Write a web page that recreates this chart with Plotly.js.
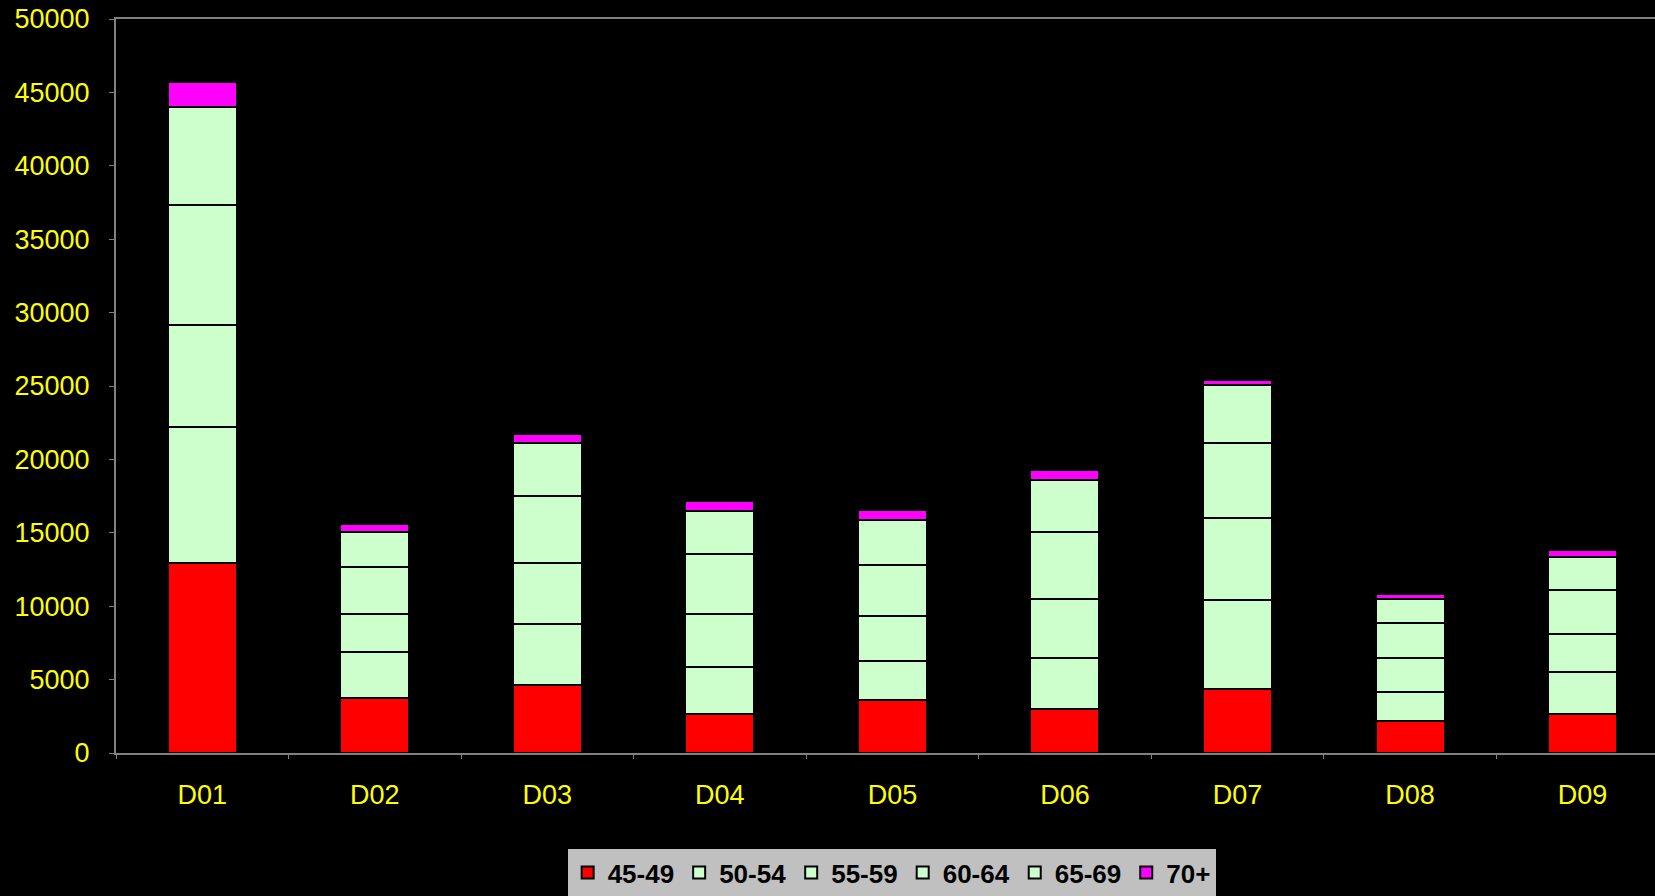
<!DOCTYPE html>
<html>
<head>
<meta charset="utf-8">
<script src="https://cdn.plot.ly/plotly-3.0.1.min.js"></script>
<style>
  html, body { margin: 0; padding: 0; background: #000; }
  #chart { width: 1655px; height: 896px; }
</style>
</head>
<body>
<div id="chart"></div>
<script>
// districts and age groups
var districts = ['D01', 'D02', 'D03', 'D04', 'D05', 'D06', 'D07', 'D08', 'D09']
var ageGroups = ['45-49', '50-54', '55-59', '60-64', '65-69', '70+']

// values per age group, one per district
var age4549 = [12940, 3750, 4650, 2650, 3630, 3010, 4350, 2200, 2650]
var age5054 = [9250, 3160, 4110, 3210, 2670, 3430, 6080, 1970, 2880]
var age5559 = [6940, 2560, 4200, 3600, 3040, 4080, 5580, 2290, 2610]
var age6064 = [8170, 3190, 4560, 4120, 3450, 4510, 5130, 2410, 2970]
var age6569 = [6700, 2400, 3620, 2880, 3080, 3560, 3940, 1650, 2260]
var age70 = [1730, 540, 560, 700, 660, 660, 360, 280, 440]

var series = [age4549, age5054, age5559, age6064, age6569, age70]
var colors = ['#FF0000', '#CCFFCC', '#CCFFCC', '#CCFFCC', '#CCFFCC', '#FF00FF']

var data = series.map(function (vals, i) {
  return {
    x: districts,
    y: vals,
    type: 'bar',
    name: ageGroups[i],
    marker: { color: colors[i], line: { color: '#000000', width: 2 } },
    hoverinfo: 'x+y+name'
  }
})

var layout = {
  barmode: 'stack',
  bargap: 0.6,
  paper_bgcolor: '#000000',
  plot_bgcolor: '#000000',
  margin: { l: 116, r: 0, t: 19, b: 142 },
  font: { family: 'Liberation Sans, Arial, sans-serif' },
  xaxis: {
    range: [-0.5, 8.42],
    showline: true,
    linecolor: '#808080',
    linewidth: 2,
    mirror: true,
    showgrid: false,
    ticks: 'outside',
    tickson: 'boundaries',
    ticklen: 4,
    tickcolor: '#808080',
    ticklabelstandoff: 17,
    tickfont: { color: '#FFFF00', size: 27 }
  },
  yaxis: {
    range: [0, 50000],
    dtick: 5000,
    tickformat: 'd',
    showline: true,
    linecolor: '#808080',
    linewidth: 2,
    mirror: true,
    showgrid: false,
    zeroline: false,
    ticks: 'outside',
    ticklen: 5,
    tickcolor: '#808080',
    ticklabelstandoff: 14,
    tickfont: { color: '#FFFF00', size: 27 }
  },
  showlegend: true,
  legend: {
    orientation: 'h',
    x: 0.504,
    xanchor: 'center',
    y: -0.131,
    yanchor: 'top',
    bgcolor: '#C0C0C0',
    traceorder: 'normal',
    itemwidth: 30,
    font: { color: '#000000', size: 26, weight: 'bold' }
  }
}

Plotly.newPlot('chart', data, layout, { displayModeBar: false })
</script>
</body>
</html>
